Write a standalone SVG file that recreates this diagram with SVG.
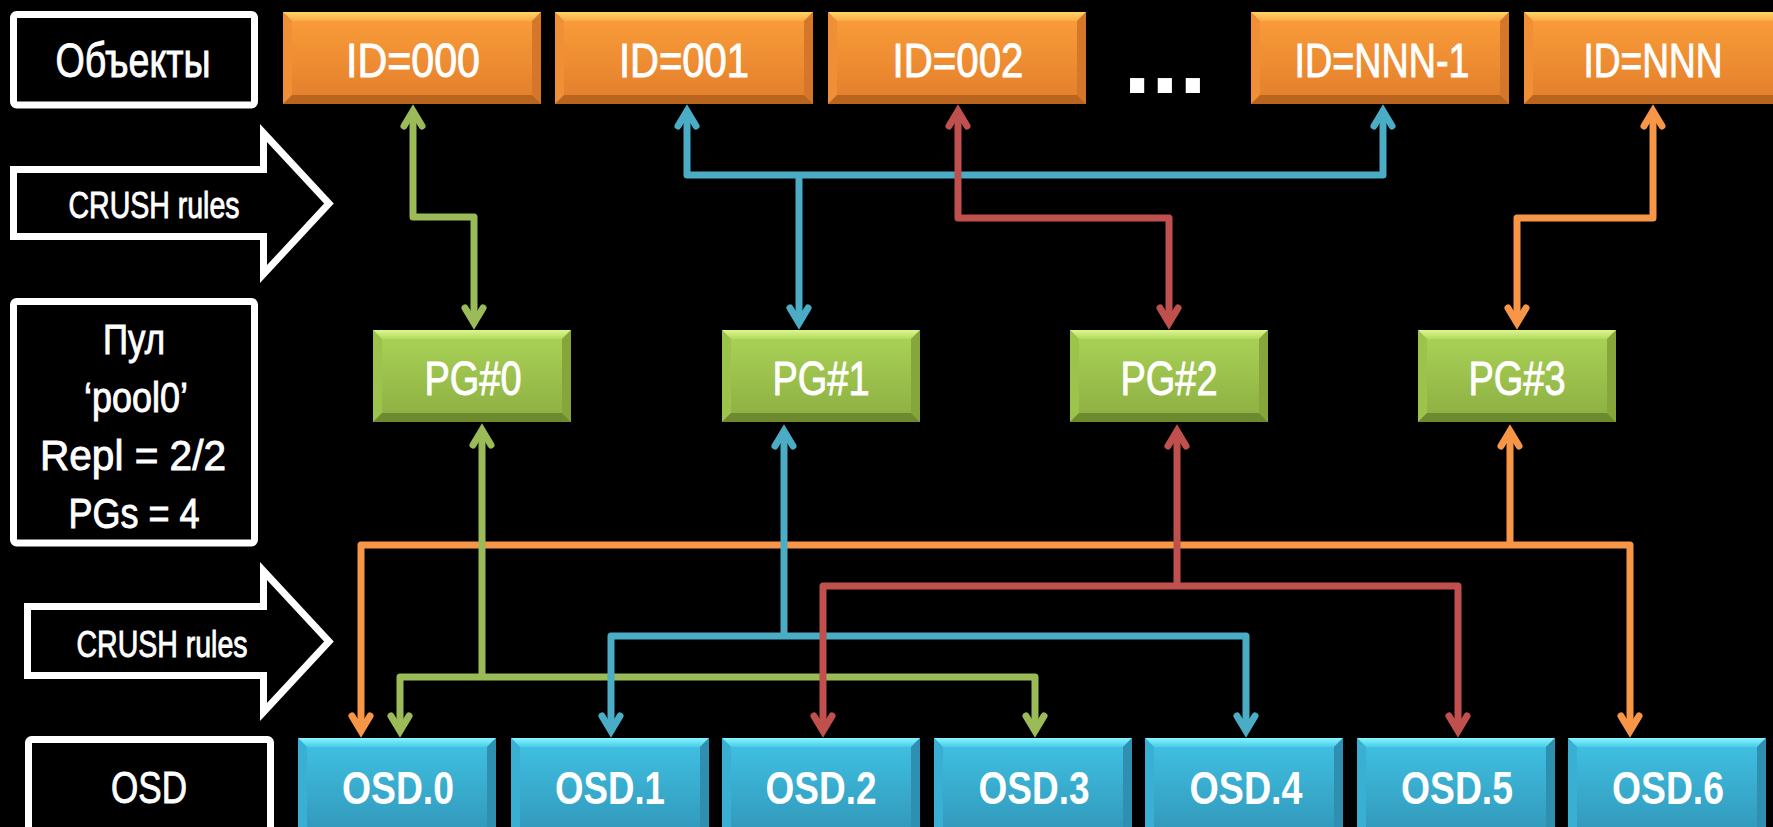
<svg xmlns="http://www.w3.org/2000/svg" xmlns:xlink="http://www.w3.org/1999/xlink" width="1773" height="827" viewBox="0 0 1773 827">
<style>
.lbl{fill:#000;stroke:#fff;stroke-width:7}
.t{font-family:"Liberation Sans",Arial,sans-serif;fill:#fff;stroke:#fff;stroke-width:0.9;text-anchor:middle}
.tb{font-family:"Liberation Sans",Arial,sans-serif;fill:#fff;text-anchor:middle;font-weight:bold}
.c{fill:none;stroke-width:7;stroke-linejoin:round}
.cg{stroke:#9BBB59}.cb{stroke:#4BACC6}.cr{stroke:#C0504D}.co{stroke:#F79646}
</style>
<defs>
<linearGradient id="gO" x1="0" y1="0" x2="0" y2="1"><stop offset="0" stop-color="#FB9E3A"/><stop offset="1" stop-color="#E27E2C"/></linearGradient>
<linearGradient id="gOt" x1="0" y1="0" x2="0" y2="1"><stop offset="0" stop-color="#FFD568"/><stop offset="1" stop-color="#FDAA45"/></linearGradient>
<linearGradient id="gG" x1="0" y1="0" x2="0" y2="1"><stop offset="0" stop-color="#ABD457"/><stop offset="1" stop-color="#8CAE42"/></linearGradient>
<linearGradient id="gGt" x1="0" y1="0" x2="0" y2="1"><stop offset="0" stop-color="#DDF78E"/><stop offset="1" stop-color="#B2D960"/></linearGradient>
<linearGradient id="gB" x1="0" y1="0" x2="0" y2="1"><stop offset="0" stop-color="#40C2E4"/><stop offset="1" stop-color="#3196B8"/></linearGradient>
<linearGradient id="gBt" x1="0" y1="0" x2="0" y2="1"><stop offset="0" stop-color="#86F6FF"/><stop offset="1" stop-color="#4ACAEA"/></linearGradient>
<g id="boxO">
<rect width="258" height="92" fill="url(#gO)"/>
<polygon points="0,0 258,0 249,9 9,9" fill="url(#gOt)"/>
<polygon points="0,0 9,9 9,83 0,92" fill="#F08F35"/>
<polygon points="258,0 258,92 249,83 249,9" fill="#D5772A"/>
<polygon points="0,92 9,83 249,83 258,92" fill="#B9651F"/>
</g>
<g id="boxG">
<rect width="198" height="92" fill="url(#gG)"/>
<polygon points="0,0 198,0 189,9 9,9" fill="url(#gGt)"/>
<polygon points="0,0 9,9 9,83 0,92" fill="#9CC34C"/>
<polygon points="198,0 198,92 189,83 189,9" fill="#86A63C"/>
<polygon points="0,92 9,83 189,83 198,92" fill="#6E8A2F"/>
</g>
<g id="boxB">
<rect width="198" height="100" fill="url(#gB)"/>
<polygon points="0,0 198,0 189,9 9,9" fill="url(#gBt)"/>
<polygon points="0,0 9,9 9,91 0,100" fill="#38AFD3"/>
<polygon points="198,0 198,100 189,91 189,9" fill="#2F8FB1"/>
</g>
<marker id="mG" viewBox="-25 -15 40 30" refX="0" refY="0" markerWidth="40" markerHeight="30" markerUnits="userSpaceOnUse" orient="auto-start-reverse"><path d="M-15,-9 L0,0 L-15,9" fill="none" stroke="#9BBB59" stroke-width="7" stroke-linecap="round"/></marker>
<marker id="mB" viewBox="-25 -15 40 30" refX="0" refY="0" markerWidth="40" markerHeight="30" markerUnits="userSpaceOnUse" orient="auto-start-reverse"><path d="M-15,-9 L0,0 L-15,9" fill="none" stroke="#4BACC6" stroke-width="7" stroke-linecap="round"/></marker>
<marker id="mR" viewBox="-25 -15 40 30" refX="0" refY="0" markerWidth="40" markerHeight="30" markerUnits="userSpaceOnUse" orient="auto-start-reverse"><path d="M-15,-9 L0,0 L-15,9" fill="none" stroke="#C0504D" stroke-width="7" stroke-linecap="round"/></marker>
<marker id="mO" viewBox="-25 -15 40 30" refX="0" refY="0" markerWidth="40" markerHeight="30" markerUnits="userSpaceOnUse" orient="auto-start-reverse"><path d="M-15,-9 L0,0 L-15,9" fill="none" stroke="#F79646" stroke-width="7" stroke-linecap="round"/></marker>
</defs>
<rect width="1773" height="827" fill="#000"/>

<g id="label-objects">
<rect class="lbl" x="13.5" y="14.5" width="241" height="90.5" rx="3"/>
<text class="t" x="133" y="77" font-size="48" textLength="155" lengthAdjust="spacingAndGlyphs">Объекты</text>
</g>
<g id="crush-rules-1">
<polygon class="lbl" points="13.5,169.5 263.5,169.5 263.5,133 329,203.5 263.5,274 263.5,236.5 13.5,236.5"/>
<text class="t" x="154" y="218" font-size="37" textLength="171" lengthAdjust="spacingAndGlyphs">CRUSH rules</text>
</g>
<g id="label-pool">
<rect class="lbl" x="13.5" y="301.5" width="241" height="241.5" rx="3"/>
<text class="t" x="134" y="354" font-size="42" textLength="62" lengthAdjust="spacingAndGlyphs">Пул</text>
<text class="t" x="136" y="412" font-size="42" textLength="104" lengthAdjust="spacingAndGlyphs">‘pool0’</text>
<text class="t" x="133" y="470" font-size="42" textLength="186" lengthAdjust="spacingAndGlyphs">Repl = 2/2</text>
<text class="t" x="134" y="528" font-size="42" textLength="131" lengthAdjust="spacingAndGlyphs">PGs = 4</text>
</g>
<g id="crush-rules-2">
<polygon class="lbl" points="27.5,606.5 263.5,606.5 263.5,571 329,641.5 263.5,712 263.5,675.5 27.5,675.5"/>
<text class="t" x="162" y="657" font-size="37" textLength="171" lengthAdjust="spacingAndGlyphs">CRUSH rules</text>
</g>
<g id="label-osd">
<rect class="lbl" x="28.5" y="739.5" width="242" height="110" rx="3"/>
<text class="t" x="149" y="803" font-size="45" textLength="76" lengthAdjust="spacingAndGlyphs">OSD</text>
</g>

<g id="obj-000"><use href="#boxO" x="283" y="12"/><text class="t" x="413" y="77" font-size="48" textLength="134" lengthAdjust="spacingAndGlyphs">ID=000</text></g>
<g id="obj-001"><use href="#boxO" x="555" y="12"/><text class="t" x="684" y="77" font-size="48" textLength="130" lengthAdjust="spacingAndGlyphs">ID=001</text></g>
<g id="obj-002"><use href="#boxO" x="828" y="12"/><text class="t" x="958" y="77" font-size="48" textLength="131" lengthAdjust="spacingAndGlyphs">ID=002</text></g>
<g id="obj-dots"><text class="tb" x="1165" y="93" font-size="100">...</text></g>
<g id="obj-nnn-1"><use href="#boxO" x="1251" y="12"/><text class="t" x="1382" y="77" font-size="48" textLength="175" lengthAdjust="spacingAndGlyphs">ID=NNN-1</text></g>
<g id="obj-nnn"><use href="#boxO" x="1524" y="12"/><text class="t" x="1653" y="77" font-size="48" textLength="139" lengthAdjust="spacingAndGlyphs">ID=NNN</text></g>

<g id="pg0"><use href="#boxG" x="373" y="330"/><text class="t" x="473" y="395" font-size="48" textLength="97" lengthAdjust="spacingAndGlyphs">PG#0</text></g>
<g id="pg1"><use href="#boxG" x="722" y="330"/><text class="t" x="821" y="395" font-size="48" textLength="97" lengthAdjust="spacingAndGlyphs">PG#1</text></g>
<g id="pg2"><use href="#boxG" x="1070" y="330"/><text class="t" x="1169" y="395" font-size="48" textLength="97" lengthAdjust="spacingAndGlyphs">PG#2</text></g>
<g id="pg3"><use href="#boxG" x="1418" y="330"/><text class="t" x="1517" y="395" font-size="48" textLength="97" lengthAdjust="spacingAndGlyphs">PG#3</text></g>

<g id="osd0"><use href="#boxB" x="298" y="738"/><text class="tb" x="398" y="804" font-size="46" textLength="112" lengthAdjust="spacingAndGlyphs">OSD.0</text></g>
<g id="osd1"><use href="#boxB" x="511" y="738"/><text class="tb" x="610" y="804" font-size="46" textLength="110" lengthAdjust="spacingAndGlyphs">OSD.1</text></g>
<g id="osd2"><use href="#boxB" x="722" y="738"/><text class="tb" x="821" y="804" font-size="46" textLength="111" lengthAdjust="spacingAndGlyphs">OSD.2</text></g>
<g id="osd3"><use href="#boxB" x="934" y="738"/><text class="tb" x="1034" y="804" font-size="46" textLength="111" lengthAdjust="spacingAndGlyphs">OSD.3</text></g>
<g id="osd4"><use href="#boxB" x="1145" y="738"/><text class="tb" x="1246" y="804" font-size="46" textLength="113" lengthAdjust="spacingAndGlyphs">OSD.4</text></g>
<g id="osd5"><use href="#boxB" x="1357" y="738"/><text class="tb" x="1457" y="804" font-size="46" textLength="112" lengthAdjust="spacingAndGlyphs">OSD.5</text></g>
<g id="osd6"><use href="#boxB" x="1568" y="738"/><text class="tb" x="1668" y="804" font-size="46" textLength="112" lengthAdjust="spacingAndGlyphs">OSD.6</text></g>

<g id="connectors">
<path class="c co" d="M1653,111 V218 H1517 V323" marker-start="url(#mO)" marker-end="url(#mO)"/>
<path class="c co" d="M1510,431 V548" marker-start="url(#mO)"/>
<path class="c co" d="M361,731 V545 H1630 V731" marker-start="url(#mO)" marker-end="url(#mO)"/>

<path class="c cg" d="M413,111 V217 H474 V323" marker-start="url(#mG)" marker-end="url(#mG)"/>
<path class="c cg" d="M482,430 V680" marker-start="url(#mG)"/>
<path class="c cg" d="M400,731 V677 H1035 V731" marker-start="url(#mG)" marker-end="url(#mG)"/>

<path class="c cb" d="M687,111 V175 H1383 V111" marker-start="url(#mB)" marker-end="url(#mB)"/>
<path class="c cb" d="M799,172 V323" marker-end="url(#mB)"/>
<path class="c cb" d="M784,431 V639" marker-start="url(#mB)"/>
<path class="c cb" d="M611,731 V636 H1246 V731" marker-start="url(#mB)" marker-end="url(#mB)"/>

<path class="c cr" d="M958,111 V218 H1169 V323" marker-start="url(#mR)" marker-end="url(#mR)"/>
<path class="c cr" d="M1177,431 V589" marker-start="url(#mR)"/>
<path class="c cr" d="M823,731 V586 H1458 V731" marker-start="url(#mR)" marker-end="url(#mR)"/>
</g>
</svg>
